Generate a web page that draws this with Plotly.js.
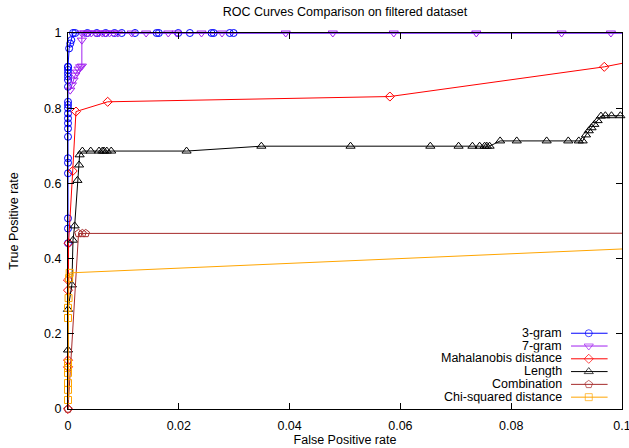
<!DOCTYPE html>
<html>
<head>
<meta charset="utf-8">
<script src="https://cdn.plot.ly/plotly-3.0.1.min.js"></script>
<style>
  html, body { margin: 0; padding: 0; background: #ffffff; }
  #chart { width: 629px; height: 448px; }
</style>
</head>
<body>
<div id="chart"></div>
<script>
// ROC points (false positive rate, true positive rate) for each detector
const seriesNames = ["3-gram", "7-gram", "Mahalanobis distance", "Length", "Combination", "Chi-squared distance"];

const threeGramFPR = [0, 0, 0, 0, 0, 0, 0, 0, 0, 0, 0, 0, 0, 0, 0, 0, 0, 0, 0, 0, 0,
  0.0002, 0.0004, 0.0006, 0.0009, 0.0013, 0.0035, 0.0052, 0.0068, 0.0084, 0.0097, 0.0121,
  0.0160, 0.0164, 0.0199, 0.0220, 0.0259, 0.0263, 0.0292, 0.0299, 1];
const threeGramTPR = [0.441, 0.480, 0.507, 0.627, 0.655, 0.667, 0.724, 0.746, 0.760, 0.773, 0.786,
  0.800, 0.809, 0.817, 0.857, 0.875, 0.884, 0.893, 0.902, 0.910, 0.910,
  0.959, 0.972, 0.981, 1, 1, 1, 1, 1, 1, 1, 1, 1, 1, 1, 1, 1, 1, 1, 1, 1];

const sevenGramFPR = [0.0004, 0.0007, 0.0010, 0.0013, 0.0016, 0.0019, 0.0022, 0.0025, 0.0025, 0.0025,
  0.0030, 0.0036, 0.0042, 0.0050, 0.0056, 0.0062, 0.0068, 0.0075, 0.0082, 0.0090,
  0.0115, 0.0141, 0.0181, 0.0196, 0.0241, 0.0278, 0.0393, 0.0478, 0.0588, 0.0737, 0.0891, 0.0980, 1];
const sevenGramTPR = [0.848, 0.862, 0.875, 0.888, 0.896, 0.904, 0.910, 0.912, 0.981, 1,
  1, 1, 1, 1, 1, 1, 1, 1, 1, 1, 1, 1, 1, 1, 1, 1, 1, 1, 1, 1, 1, 1, 1];

const mahalanobisFPR = [0, 0, 0, 0, 0, 0.0001, 0.00085, 0.00144, 0.00716, 0.0581, 0.0968, 0.103, 1];
const mahalanobisTPR = [0, 0.112, 0.130, 0.316, 0.343, 0.441, 0.633, 0.791, 0.817, 0.831, 0.910, 0.928, 1];

const lengthFPR = [0, 0, 0.0007, 0.0009, 0.0012, 0.0017, 0.0020, 0.0021, 0.0026, 0.0041, 0.0056,
  0.0062, 0.0065, 0.0070, 0.0078, 0.0214, 0.0349, 0.0510, 0.0654, 0.0705, 0.0730, 0.0743,
  0.0752, 0.0756, 0.0761, 0.0780, 0.0810, 0.0864, 0.0903, 0.0922, 0.0929, 0.0935, 0.0940,
  0.0945, 0.0950, 0.0956, 0.0962, 0.0970, 0.0981, 0.0997, 1];
const lengthTPR = [0.157, 0.265, 0.330, 0.449, 0.487, 0.608, 0.649, 0.676, 0.686, 0.686, 0.686,
  0.686, 0.686, 0.686, 0.686, 0.686, 0.699, 0.699, 0.699, 0.699, 0.699, 0.699,
  0.699, 0.699, 0.699, 0.713, 0.713, 0.713, 0.713, 0.713, 0.713, 0.729, 0.740,
  0.748, 0.757, 0.767, 0.779, 0.780, 0.780, 0.780, 1];

const combinationFPR = [0, 0.0019, 0.0026, 0.0032, 0.6, 1];
const combinationTPR = [0, 0.467, 0.467, 0.467, 0.470, 1];

const chiSquaredFPR = [0, 0, 0, 0, 0, 0, 0, 0, 0.0001, 0.0002, 0.0003, 1];
const chiSquaredTPR = [0.024, 0.051, 0.069, 0.096, 0.109, 0.122, 0.242, 0.269, 0.295, 0.348, 0.362, 1];

const xTickVals = [0, 0.02, 0.04, 0.06, 0.08, 0.1];
const xTickText = ["0", "0.02", "0.04", "0.06", "0.08", "0.1"];
const yTickVals = [0, 0.2, 0.4, 0.6, 0.8, 1];
const yTickText = ["0", "0.2", "0.4", "0.6", "0.8", "1"];

// Styling per series
const colors = ["#0000ff", "#a020f0", "#ff0000", "#000000", "#a52a2a", "#ffa500"];
const symbols = ["circle-open", "triangle-down-open", "diamond-open", "triangle-up-open", "pentagon-open", "square-open"];
const sizes = [7, 8, 7, 8, 8, 7];

const xs = [threeGramFPR, sevenGramFPR, mahalanobisFPR, lengthFPR, combinationFPR, chiSquaredFPR];
const ys = [threeGramTPR, sevenGramTPR, mahalanobisTPR, lengthTPR, combinationTPR, chiSquaredTPR];

const FONT = "Liberation Sans, Arial, Helvetica, sans-serif";
const FS = 12.5;

const traces = seriesNames.map((name, i) => ({
  type: "scatter",
  mode: "lines+markers",
  name: name,
  x: xs[i],
  y: ys[i],
  cliponaxis: false,
  showlegend: false,
  line: { color: colors[i], width: 1 },
  marker: { symbol: symbols[i], size: sizes[i], color: colors[i], line: { width: 1, color: colors[i] } }
}));

// Key in the lower right: right-aligned labels followed by a line sample with a marker
const keyTop = 0.2015, keyStep = 0.0340;
const keyLineLeft = 0.908, keyMarkX = 0.940, keyLineRight = 0.974, keyTextRight = 0.8935;
const annotations = [];
seriesNames.forEach((name, i) => {
  const ky = keyTop - i * keyStep;
  traces.push({
    type: "scatter",
    mode: "lines+markers",
    xaxis: "x2", yaxis: "y2",
    x: [keyLineLeft, keyMarkX, keyLineRight],
    y: [ky, ky, ky],
    showlegend: false,
    hoverinfo: "skip",
    cliponaxis: false,
    line: { color: colors[i], width: 1 },
    marker: { symbol: symbols[i], size: [0, sizes[i], 0], color: colors[i], line: { width: 1, color: colors[i] } }
  });
  annotations.push({
    xref: "paper", yref: "paper",
    x: keyTextRight, y: ky,
    xanchor: "right", yanchor: "middle",
    borderpad: 0, height: 12.5,
    text: name, showarrow: false,
    font: { family: FONT, size: FS, color: "#000000" }
  });
});

const layout = {
  width: 629,
  height: 448,
  paper_bgcolor: "#ffffff",
  plot_bgcolor: "#ffffff",
  margin: { l: 68, r: 7, t: 33, b: 39 },
  font: { family: FONT, size: FS, color: "#000000" },
  showlegend: false,
  title: {
    text: "ROC Curves Comparison on filtered dataset",
    font: { family: FONT, size: FS, color: "#000000" },
    xref: "paper", x: 0.5, xanchor: "center",
    yref: "container", y: 1 - 12 / 448, yanchor: "middle"
  },
  xaxis: {
    range: [0, 0.1],
    tickmode: "array", tickvals: xTickVals, ticktext: xTickText,
    ticks: "inside", ticklen: 6, tickwidth: 1, tickcolor: "#000000",
    ticklabelstandoff: 5, ticklabeloverflow: "allow",
    showline: true, linecolor: "#000000", linewidth: 1, mirror: "ticks",
    showgrid: false, zeroline: false,
    tickfont: { family: FONT, size: FS, color: "#000000" },
    title: { text: "False Positive rate", font: { family: FONT, size: FS, color: "#000000" }, standoff: 3 }
  },
  yaxis: {
    range: [0, 1],
    tickmode: "array", tickvals: yTickVals, ticktext: yTickText,
    ticks: "inside", ticklen: 6, tickwidth: 1, tickcolor: "#000000",
    ticklabelstandoff: 3, ticklabeloverflow: "allow",
    showline: true, linecolor: "#000000", linewidth: 1, mirror: "ticks",
    showgrid: false, zeroline: false,
    tickfont: { family: FONT, size: FS, color: "#000000" },
    title: { text: "True Positive rate", font: { family: FONT, size: FS, color: "#000000" }, standoff: 22 }
  },
  xaxis2: { overlaying: "x", anchor: "y2", range: [0, 1], visible: false, fixedrange: true },
  yaxis2: { overlaying: "y", anchor: "x2", range: [0, 1], visible: false, fixedrange: true },
  annotations: annotations
};

Plotly.newPlot("chart", traces, layout, { displayModeBar: false, staticPlot: true });
</script>
</body>
</html>
